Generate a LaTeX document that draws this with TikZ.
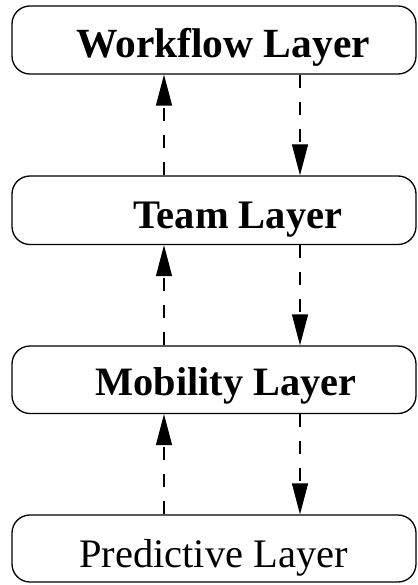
\documentclass[tikz,border=0pt]{standalone}
\usepackage{fontspec}
\setmainfont{Liberation Serif}
\usetikzlibrary{arrows.meta}
\begin{document}
\begin{tikzpicture}[x=1pt,y=1pt,
  layerbox/.style={draw=black,line width=1.3pt,rounded corners=18pt,inner sep=0pt,
    minimum width=404pt,minimum height=68pt},
  layertext/.style={anchor=base,inner sep=0pt,font=\fontsize{40.5}{48}\selectfont},
  flow/.style={line width=1.3pt,dash pattern=on 13pt off 14pt,
    -{Triangle[length=31pt,width=16pt]}}]
\useasboundingbox (0,0) rectangle (417,-585);
\node[layerbox] (w) at (214,-40) {};
\node[layerbox,minimum height=68.5pt] (t) at (214,-210.25) {};
\node[layerbox,minimum height=67.5pt] (m) at (214,-379.75) {};
\node[layerbox,minimum height=67pt] (p) at (214,-548.5) {};
\node[layertext,font=\fontsize{41.5}{48}\selectfont\bfseries] (wt) at (223,-58) {Workflow Layer};
\node[layertext,font=\fontsize{40.5}{48}\selectfont\bfseries] (tt) at (238,-228) {Team Layer};
\node[layertext,font=\fontsize{40.3}{48}\selectfont\bfseries] (mt) at (226,-395) {Mobility Layer};
\node[layertext] (pt) at (213.5,-567) {Predictive Layer};
\coordinate (xl) at (164,0);
\coordinate (xr) at (300,0);
\draw[flow] (t.north -| xl) -- (w.south -| xl);
\draw[flow] (w.south -| xr) -- (t.north -| xr);
\draw[flow] (m.north -| xl) -- (t.south -| xl);
\draw[flow] (t.south -| xr) -- (m.north -| xr);
\draw[flow] (p.north -| xl) -- (m.south -| xl);
\draw[flow] (m.south -| xr) -- (p.north -| xr);
\end{tikzpicture}
\end{document}
